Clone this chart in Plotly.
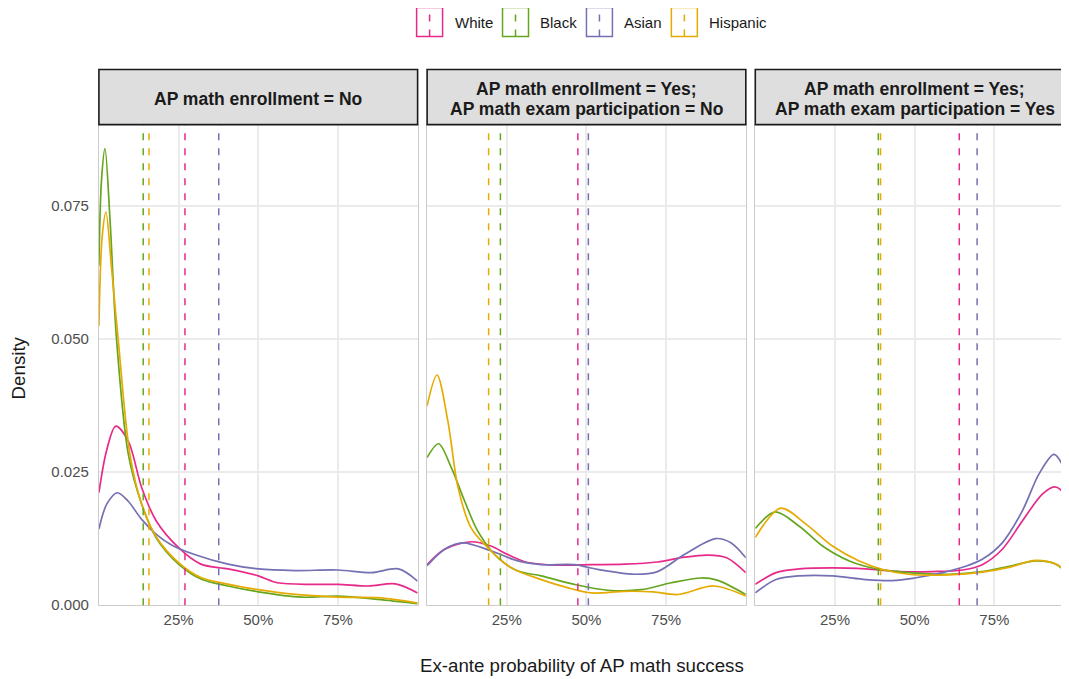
import plotly.graph_objects as go

WIN_W, WIN_H = 1069, 679
OFF = 8  # default page body margin in the browser
W, H = WIN_W - OFF, WIN_H - OFF
Y_OFF, Y_SCALE = 7.5, 0.987  # measured vertical placement of the rendered page

groups = ["White", "Black", "Asian", "Hispanic"]
colors = ["#E7298A", "#66A61E", "#7570B3", "#E6AB02"]

strip_titles = [
    ["AP math enrollment = No"],
    ["AP math enrollment = Yes;", "AP math exam participation = No"],
    ["AP math enrollment = Yes;", "AP math exam participation = Yes"],
]

x_ticks = [0.25, 0.5, 0.75]
y_ticks = [0.0, 0.025, 0.05, 0.075]
y_ticklabels = ["0.000", "0.025", "0.050", "0.075"]

# ---- Panel 1: AP math enrollment = No ----
p1_white_x = [0, .024, .053, .092, .134, .18, .25, .32, .405, .5, .56, .67, .75, .845, .93, 1.0]
p1_white_y = [.0211, .029, .0336, .0308, .0221, .0158, .0108, .0077, .0068, .0055, .0042, .0039, .0039, .0036, .0040, .0023]
p1_black_x = [0, .008, .019, .035, .055, .092, .134, .18, .25, .32, .405, .5, .635, .75, .875, 1.0]
p1_black_y = [.0637, .0797, .0857, .0722, .0502, .0284, .019, .0126, .0077, .0049, .0036, .0025, .0015, .0017, .0011, .0003]
p1_asian_x = [0, .025, .058, .092, .134, .18, .228, .30, .405, .5, .614, .75, .855, .94, 1.0]
p1_asian_y = [.0143, .019, .0211, .0195, .0161, .0133, .0113, .0095, .0077, .0068, .0065, .0066, .0061, .0068, .0045]
p1_hisp_x = [0, .01, .022, .04, .06, .097, .134, .18, .25, .32, .4, .5, .6, .75, .875, 1.0]
p1_hisp_y = [.0524, .069, .0738, .063, .0502, .0284, .019, .0128, .0080, .0052, .0040, .0029, .0021, .0015, .0014, .0004]
p1_means = [.27, .139, .376, .157]

# ---- Panel 2: enrollment = Yes; exam participation = No ----
p2_white_x = [0, .055, .138, .20, .253, .316, .41, .515, .62, .723, .807, .88, .94, 1.0]
p2_white_y = [.0076, .0105, .0119, .0111, .0095, .0080, .0075, .0076, .0077, .0081, .0090, .0094, .0089, .0061]
p2_black_x = [0, .036, .076, .118, .159, .222, .285, .358, .462, .567, .671, .766, .86, .91, 1.0]
p2_black_y = [.0277, .0303, .0258, .0195, .0139, .0089, .0064, .0055, .0039, .0028, .0029, .0042, .0051, .0047, .0020]
p2_asian_x = [0, .055, .112, .20, .285, .358, .462, .535, .65, .723, .807, .906, .953, 1.0]
p2_asian_y = [.0074, .0105, .0117, .0102, .0083, .0076, .0076, .0067, .0058, .0063, .0095, .0125, .0117, .0089]
p2_hisp_x = [0, .031, .065, .097, .138, .19, .264, .358, .44, .515, .62, .71, .786, .90, 1.0]
p2_hisp_y = [.0374, .0432, .0346, .0221, .0145, .0108, .0070, .0048, .0033, .0023, .0026, .0025, .0020, .0036, .0017]
p2_means = [.473, .23, .506, .193]

# ---- Panel 3: enrollment = Yes; exam participation = Yes ----
p3_white_x = [0, .065, .138, .242, .347, .451, .556, .65, .712, .775, .838, .90, .939, .963, .981]
p3_white_y = [.0039, .0061, .0068, .0070, .0068, .0063, .0063, .0066, .0076, .0105, .0158, .0208, .0222, .0214, .0195]
p3_black_x = [0, .063, .138, .211, .295, .389, .48, .608, .712, .796, .88, .943, .981]
p3_black_y = [.0144, .0175, .0148, .0111, .0083, .0067, .0061, .0058, .0063, .0073, .0083, .0077, .0058]
p3_asian_x = [0, .065, .138, .242, .347, .43, .5, .587, .66, .712, .775, .838, .89, .937, .963, .981]
p3_asian_y = [.0023, .0048, .0055, .0055, .0048, .0046, .0051, .0061, .0073, .0086, .0117, .0177, .0246, .0283, .0264, .0224]
p3_hisp_x = [0, .080, .159, .242, .326, .4, .48, .608, .712, .796, .88, .943, .981]
p3_hisp_y = [.0127, .0182, .0152, .0111, .0083, .0067, .0058, .0057, .0062, .0071, .0084, .0077, .0061]
p3_means = [.64, .386, .696, .393]

panels = [
    [(p1_white_x, p1_white_y), (p1_black_x, p1_black_y), (p1_asian_x, p1_asian_y), (p1_hisp_x, p1_hisp_y)],
    [(p2_white_x, p2_white_y), (p2_black_x, p2_black_y), (p2_asian_x, p2_asian_y), (p2_hisp_x, p2_hisp_y)],
    [(p3_white_x, p3_white_y), (p3_black_x, p3_black_y), (p3_asian_x, p3_asian_y), (p3_hisp_x, p3_hisp_y)],
]
means = [p1_means, p2_means, p3_means]

# ---- layout geometry (window pixels) ----
panel_left = [99, 427.5, 756]
panel_w = 319
panel_top, panel_bottom = 124, 604
strip_top = 70
y_top_value = 0.0902
x_ranges = [[0, 1], [0, 1], [0, (WIN_W - 756) / panel_w]]

def px(x):
    return (x - OFF) / W

def py(y):
    return 1 - ((y - Y_OFF) / Y_SCALE) / H

FONT = "Liberation Sans, Arial, sans-serif"

fig = go.Figure()
shapes = []
annotations = []

for i in range(3):
    xa = "x" if i == 0 else f"x{i+1}"
    ya = "y" if i == 0 else f"y{i+1}"
    for g, (xs, ys) in enumerate(panels[i]):
        fig.add_trace(go.Scatter(
            x=xs, y=ys, mode="lines", xaxis=xa, yaxis=ya,
            line=dict(color=colors[g], width=1.7, shape="spline", smoothing=0.9),
            name=groups[g], showlegend=False, hoverinfo="skip",
        ))
    for g, m in enumerate(means[i]):
        shapes.append(dict(
            type="line", xref=xa, yref=f"{ya} domain", x0=m, x1=m, y0=0, y1=1,
            line=dict(color=colors[g], width=1.5, dash="7px,8px"), layer="above",
        ))
    x0 = panel_left[i]
    x1 = x0 + panel_w if i < 2 else WIN_W
    dom = [max(px(x0), 0), min(px(x1), 1)]
    ax_common = dict(
        domain=dom, range=x_ranges[i], tickvals=x_ticks, tickformat=".0%",
        showgrid=True, gridcolor="#ebebeb", gridwidth=1.6, zeroline=False,
        showline=True, linecolor="#cccccc", linewidth=1, mirror=True,
        ticks="", ticklabelstandoff=1,
        tickfont=dict(family=FONT, size=15, color="#4d4d4d"),
        fixedrange=True, anchor=ya,
    )
    ay_common = dict(
        domain=[py(panel_bottom), py(panel_top)],
        range=[0, y_top_value],
        tickvals=y_ticks, ticktext=y_ticklabels,
        showgrid=True, gridcolor="#ebebeb", gridwidth=1.6, zeroline=False,
        showline=True, linecolor="#cccccc", linewidth=1, mirror=True,
        ticks="", ticklabelstandoff=6, showticklabels=(i == 0),
        tickfont=dict(family=FONT, size=15, color="#4d4d4d"),
        fixedrange=True, anchor=xa,
    )
    fig.update_layout(**{("xaxis" if i == 0 else f"xaxis{i+1}"): ax_common,
                         ("yaxis" if i == 0 else f"yaxis{i+1}"): ay_common})
    # strip
    sx1 = x0 + panel_w if i < 2 else WIN_W + 8
    shapes.append(dict(
        type="rect", xref="paper", yref="paper",
        x0=px(x0), x1=px(sx1), y0=py(panel_top), y1=py(strip_top - 1),
        fillcolor="#dedede", line=dict(color="#1a1a1a", width=1.6), layer="above",
    ))
    lines = strip_titles[i]
    mid = (strip_top + panel_top) / 2 + 1
    n = len(lines)
    for k, txt in enumerate(lines):
        ly = mid + (k - (n - 1) / 2) * 20
        annotations.append(dict(
            xref="paper", yref="paper", x=px(x0 + panel_w / 2), y=py(ly),
            text=f"<b>{txt}</b>", showarrow=False, xanchor="center", yanchor="middle",
            font=dict(family=FONT, size=17.5, color="#1a1a1a"),
        ))

# axis titles
annotations.append(dict(
    xref="paper", yref="paper", x=px(583), y=py(664), text="Ex-ante probability of AP math success",
    showarrow=False, xanchor="center", yanchor="middle",
    font=dict(family=FONT, size=18.7, color="#1a1a1a"),
))
annotations.append(dict(
    xref="paper", yref="paper", x=px(18.5), y=py(367), text="Density", textangle=-90,
    showarrow=False, xanchor="center", yanchor="middle",
    font=dict(family=FONT, size=18.7, color="#1a1a1a"),
))

# custom legend (box outline + dashed vertical line, as in the ggplot key)
legend_box_left = [417, 503, 587, 672]
key_w, key_top, key_bot = 26, 7, 36
for g in range(4):
    bx = legend_box_left[g]
    shapes.append(dict(
        type="rect", xref="paper", yref="paper",
        x0=px(bx), x1=px(bx + key_w), y0=py(key_bot), y1=py(key_top),
        line=dict(color=colors[g], width=1.5), fillcolor="rgba(0,0,0,0)",
    ))
    shapes.append(dict(
        type="line", xref="paper", yref="paper",
        x0=px(bx + key_w / 2), x1=px(bx + key_w / 2), y0=py(key_bot), y1=py(key_top),
        line=dict(color=colors[g], width=1.5, dash="7px,8px"),
    ))
    annotations.append(dict(
        xref="paper", yref="paper", x=px(bx + key_w + 10), y=py(22), text=groups[g],
        showarrow=False, xanchor="left", yanchor="middle",
        font=dict(family=FONT, size=15, color="#1a1a1a"),
    ))

fig.update_layout(
    width=W, height=H, margin=dict(l=0, r=0, t=0, b=0),
    paper_bgcolor="white", plot_bgcolor="white",
    shapes=shapes, annotations=annotations, showlegend=False,
)

fig.write_html("out.html")
